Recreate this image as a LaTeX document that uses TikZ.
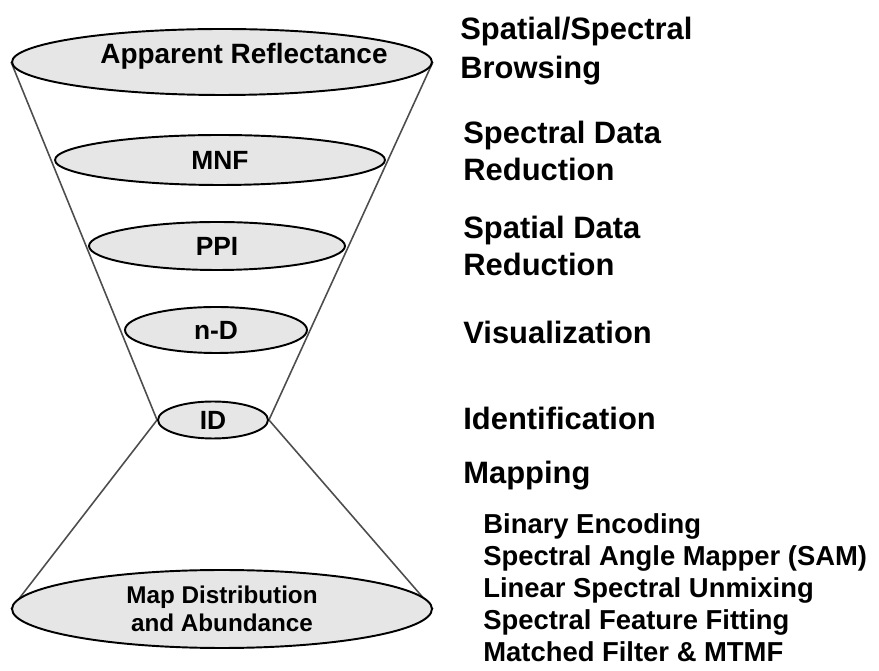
\documentclass[tikz,border=0pt]{standalone}
\usepackage{fontspec}
\setmainfont{Liberation Sans}
\usetikzlibrary{shapes.geometric, positioning, backgrounds}
\definecolor{stagefill}{HTML}{E6E6E6}
\definecolor{coneline}{HTML}{4D4D4D}

\begin{document}
\begin{tikzpicture}[x=0.02cm, y=-0.02cm,
    stage/.style={ellipse, draw=black, line width=1.1pt, fill=stagefill, inner sep=0pt,
                  font=\fontsize{15}{17}\selectfont\bfseries},
    task/.style={anchor=west, align=left, inner sep=0pt,
                 font=\fontsize{17.6}{21}\selectfont\bfseries},
    method/.style={anchor=base west, inner sep=0pt,
                   font=\fontsize{15.6}{18}\selectfont\bfseries},
    cone/.style={draw=coneline, line width=0.9pt},
]
    \useasboundingbox (0,0) rectangle (879,671);

    % Funnel stages
    \node[stage, minimum width=8.4cm, minimum height=1.32cm] (refl) at (222,62) {};
    \node[font=\fontsize{15.9}{18}\selectfont\bfseries] (refltxt) at (244,56) {Apparent Reflectance};
    \node[stage, minimum width=6.6cm, minimum height=1.0cm] (mnf) at (220,160) {MNF};
    \node[stage, minimum width=5.12cm, minimum height=0.96cm] (ppi) at (217,246) {PPI};
    \node[stage, minimum width=3.64cm, minimum height=0.92cm] (nd) at (216,330) {n-D};
    \node[stage, minimum width=2.2cm, minimum height=0.74cm] (idn) at (213,420) {ID};
    \node[stage, minimum width=8.4cm, minimum height=1.56cm, align=center,
          font=\fontsize{13.8}{16}\selectfont\bfseries] (mapd) at (222,609)
          {Map Distribution\\and Abundance};

    % Cone sides
    \begin{scope}[on background layer]
        \draw[cone] (refl.west) -- (idn.west) -- (mapd.west);
        \draw[cone] (refl.east) -- (idn.east) -- (mapd.east);
    \end{scope}

    % Processing steps
    \node[task, font=\fontsize{17.6}{22.5}\selectfont\bfseries] (browse) at (460,51) {Spatial/Spectral\\Browsing};
    \node[task] (specred) at (463,151) {Spectral Data\\Reduction};
    \node[task] (spatred) at (463,246) {Spatial Data\\Reduction};
    \node[task] (visual) at (463,332) {Visualization};
    \node[task] (ident) at (463,418) {Identification};
    \node[task] (mapping) at (463,476) {Mapping};

    % Mapping methods
    \foreach \m [count=\i from 0] in {Binary Encoding, Spectral Angle Mapper (SAM),
        Linear Spectral Unmixing, Spectral Feature Fitting, Matched Filter \& MTMF} {
        \node[method] (meth\i) at (483, 534+\i*32) {\m};
    }
\end{tikzpicture}
\end{document}
